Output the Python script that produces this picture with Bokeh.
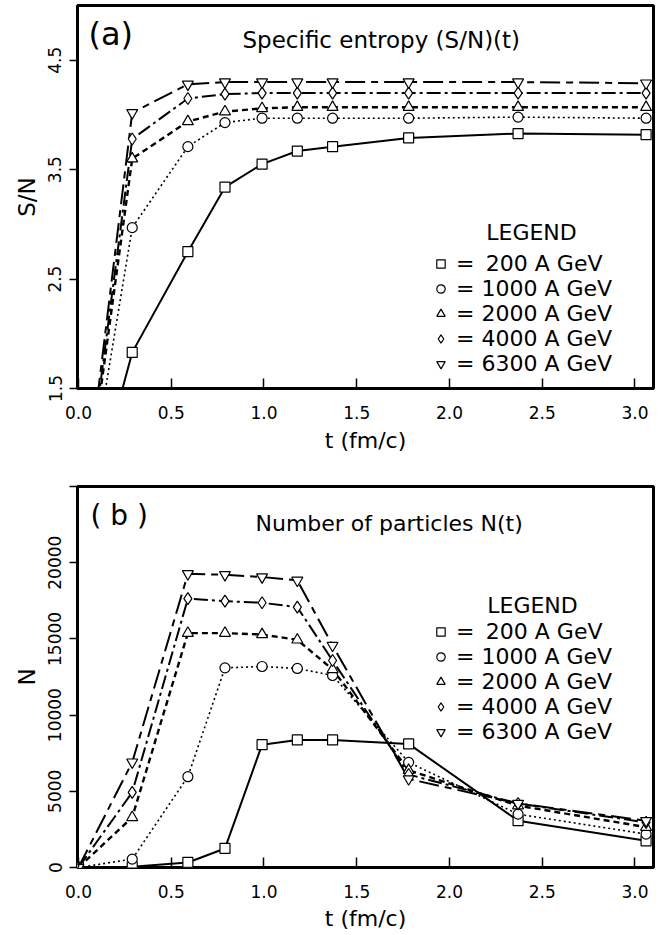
from bokeh.plotting import figure
from bokeh.layouts import column
from bokeh.models import (FixedTicker, Legend, LegendItem, Label, Range1d,
                          NumeralTickFormatter)
from bokeh.embed import file_html
from bokeh.resources import INLINE

# ---------------- data ----------------
t = [0.0, 0.29, 0.59, 0.79, 0.99, 1.18, 1.37, 1.78, 2.37, 3.06]

legend_labels = ["= \u2009200 A GeV", "= 1000 A GeV", "= 2000 A GeV",
                 "= 4000 A GeV", "= 6300 A GeV"]

sn_200 = [0.0, 1.83, 2.75, 3.34, 3.55, 3.67, 3.71, 3.79, 3.83, 3.82]
sn_1000 = [0.0, 2.97, 3.71, 3.93, 3.97, 3.97, 3.97, 3.97, 3.98, 3.97]
sn_2000 = [0.0, 3.60, 3.94, 4.03, 4.06, 4.07, 4.07, 4.07, 4.07, 4.07]
sn_4000 = [0.0, 3.78, 4.15, 4.19, 4.20, 4.20, 4.20, 4.20, 4.20, 4.20]
sn_6300 = [0.0, 4.02, 4.28, 4.30, 4.30, 4.30, 4.30, 4.30, 4.30, 4.29]

n_200 = [0, 50, 330, 1250, 8060, 8370, 8370, 8110, 3070, 1750]
n_1000 = [0, 550, 5960, 13100, 13190, 13060, 12600, 6900, 3500, 2190]
n_2000 = [0, 3290, 15380, 15380, 15290, 14940, 13000, 6380, 4060, 2650]
n_4000 = [0, 4930, 17640, 17480, 17370, 17080, 13580, 6100, 4200, 2960]
n_6300 = [0, 6910, 19270, 19210, 19060, 18840, 14570, 5810, 4200, 3070]

x_ticks = [0.0, 0.5, 1.0, 1.5, 2.0, 2.5, 3.0]
sn_ticks = [1.5, 2.5, 3.5, 4.5]
n_ticks = [0, 5000, 10000, 15000, 20000, 25000]

# ---------------- styles ----------------
FONT = "DejaVu Sans"
markers = ["square", "circle", "triangle", "diamond", "inverted_triangle"]
msizes = [10, 10, 11, 12, 11]
dashes = ["solid", "2 3", "6 4", "14 4 3 4", "20 6 7 6"]
lwidths = [2, 1.6, 2.4, 2, 2]


def make_fig(height, ytop, ybot, yticks, border_top, border_bottom, ylabel,
             xlabel_standoff):
    p = figure(width=668, height=height, output_backend="svg",
               toolbar_location=None,
               x_range=Range1d(-0.005, 3.1), y_range=Range1d(ybot, ytop),
               min_border_left=77, min_border_right=15,
               min_border_top=border_top, min_border_bottom=border_bottom)
    p.background_fill_color = "white"
    p.border_fill_color = "white"
    p.outline_line_color = "black"
    p.outline_line_width = 3
    p.xgrid.visible = False
    p.ygrid.visible = False

    xa = p.xaxis[0]
    xa.ticker = FixedTicker(ticks=x_ticks)
    xa.formatter = NumeralTickFormatter(format="0.0")
    xa.major_tick_in = 10
    xa.major_tick_out = 0
    xa.minor_tick_line_color = None
    xa.major_tick_line_width = 1.5
    xa.axis_line_color = None
    xa.major_label_text_font = FONT
    xa.major_label_text_font_size = "17px"
    xa.major_label_text_color = "black"
    xa.major_label_standoff = 17
    xa.axis_label = "t (fm/c)"
    xa.axis_label_text_font = FONT
    xa.axis_label_text_font_size = "22px"
    xa.axis_label_text_font_style = "normal"
    xa.axis_label_text_color = "black"
    xa.axis_label_standoff = xlabel_standoff

    ya = p.yaxis[0]
    ya.ticker = FixedTicker(ticks=yticks)
    ya.major_tick_in = 0
    ya.major_tick_out = 8
    ya.minor_tick_line_color = None
    ya.major_tick_line_width = 1.5
    ya.axis_line_color = None
    ya.major_label_orientation = "vertical"
    ya.major_label_text_font = FONT
    ya.major_label_text_font_size = "17px"
    ya.major_label_text_color = "black"
    ya.major_label_standoff = 8
    ya.axis_label = ylabel
    ya.axis_label_text_font = FONT
    ya.axis_label_text_font_size = "23px"
    ya.axis_label_text_font_style = "normal"
    ya.axis_label_text_color = "black"
    ya.axis_label_standoff = 6
    return p


def add_series(p, series, leg_x, leg_y, legend_center, title_a, title_b):
    for ys, d, lw in zip(series, dashes, lwidths):
        p.line(t, ys, line_color="black", line_width=lw, line_dash=d)
    scs = []
    for ys, m, s in zip(series, markers, msizes):
        sc = p.scatter(t, ys, marker=m, size=s, line_color="black",
                       line_width=1.2, fill_color="white")
        scs.append(sc)
    items = [LegendItem(label=lab, renderers=[sc])
             for lab, sc in zip(legend_labels, scs)]
    leg = Legend(items=items, location=(leg_x, leg_y), glyph_width=21,
                 glyph_height=21, label_standoff=5, spacing=0, padding=0,
                 margin=0, border_line_color=None, background_fill_alpha=0,
                 label_text_font=FONT, label_text_font_size="22px",
                 label_height=25, label_text_color="black")
    p.add_layout(leg)
    p.add_layout(Label(x=legend_center[0], y=legend_center[1],
                       x_units="screen", y_units="screen", text="LEGEND",
                       text_align="center", text_baseline="middle",
                       text_font=FONT, text_font_size="22px",
                       text_color="black"))
    p.add_layout(Label(x=title_a[0], y=title_a[1], x_units="screen",
                       y_units="screen", text=title_a[2], text_align="left",
                       text_baseline="middle", text_font=FONT,
                       text_font_size=title_a[3], text_color="black"))
    p.add_layout(Label(x=title_b[0], y=title_b[1], x_units="screen",
                       y_units="screen", text=title_b[2], text_align="left",
                       text_baseline="middle", text_font=FONT,
                       text_font_size=title_b[3], text_color="black"))


# panel (a): frame 5..388 px
p1 = make_fig(460, 5.0, 1.5, sn_ticks, 5, 72, "S/N", 6)
add_series(p1, [sn_200, sn_1000, sn_2000, sn_4000, sn_6300],
           353, 12, (454, 156), (11, 355, "(a)", "32px"),
           (165, 349, "Specific entropy (S/N)(t)", "23px"))

# panel (b): frame 486..867 px
p2 = make_fig(475, 25000, 0, n_ticks, 26, 68, "N", 5)
p2.yaxis[0].formatter = NumeralTickFormatter(format="0")
p2.yaxis[0].major_label_overrides = {25000: ""}
add_series(p2, [n_200, n_1000, n_2000, n_4000, n_6300],
           353, 123, (455, 262), (13, 352, "( b )", "28px"),
           (178, 344, "Number of particles N(t)", "22px"))

layout = column(p1, p2)
open("out.html", "w").write(file_html(layout, INLINE))
